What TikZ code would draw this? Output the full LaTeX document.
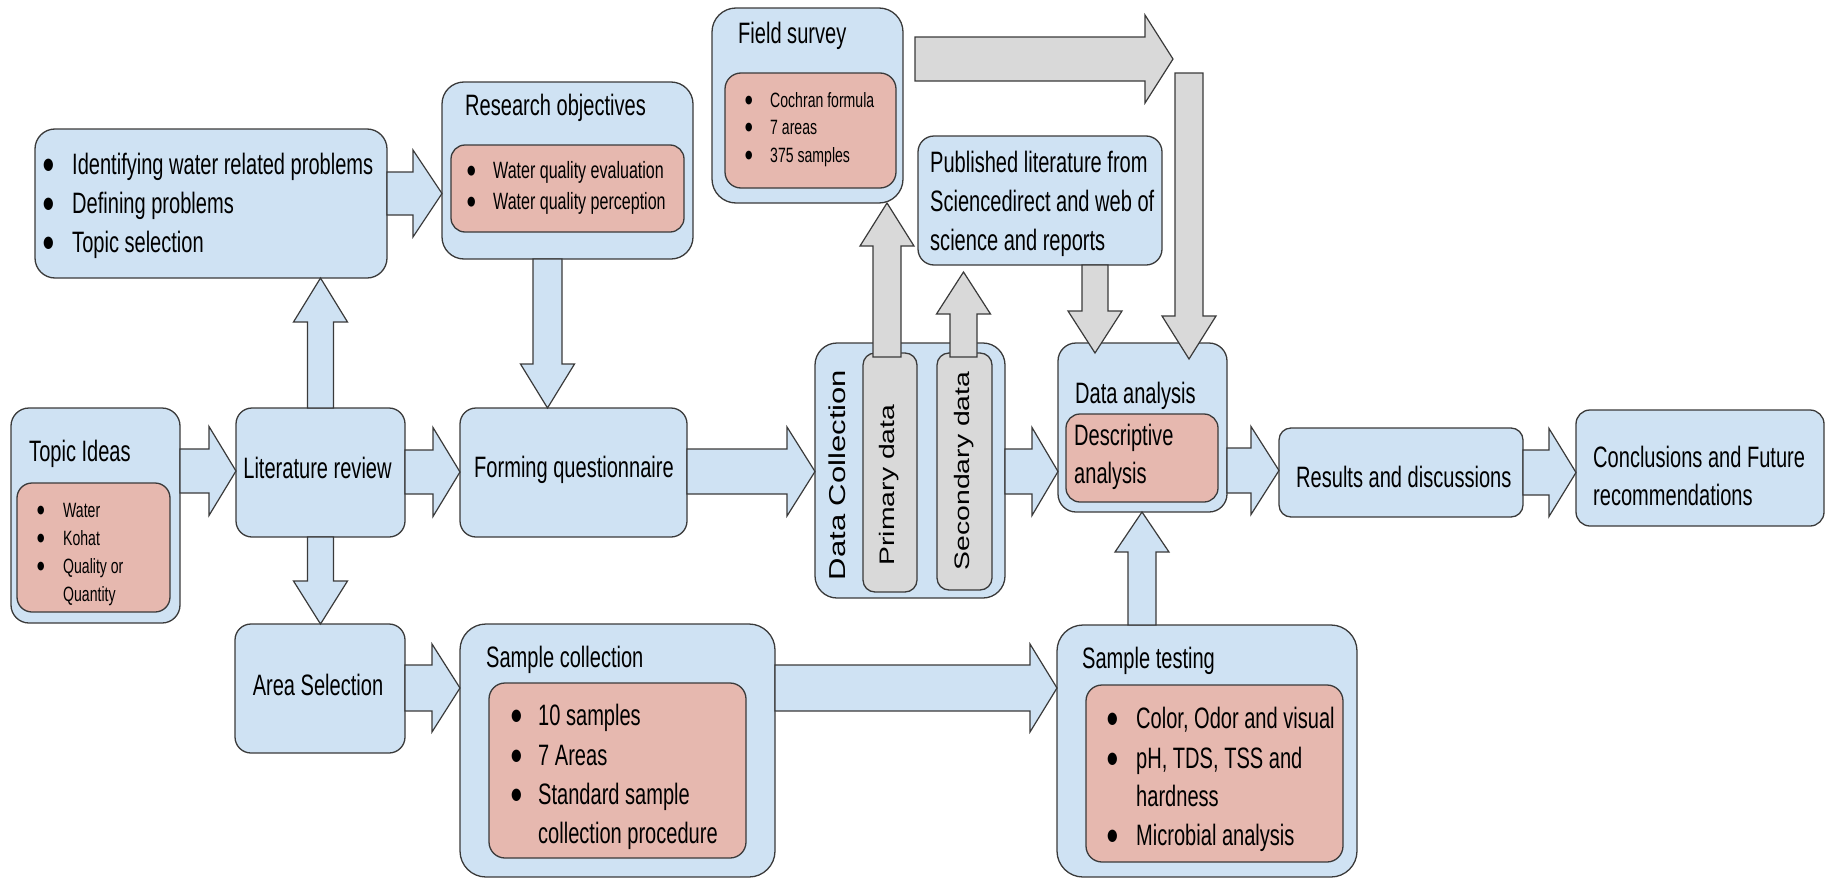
\documentclass[tikz,border=0pt]{standalone}
\usepackage{fontspec}
\setmainfont{Liberation Sans}
\newfontfamily\nar{Liberation Sans}[FakeStretch=0.68]
\newfontfamily\wid{Liberation Sans}[FakeStretch=1.35]
\newfontfamily\dv{DejaVu Sans}
\usetikzlibrary{calc}
\definecolor{bl}{HTML}{CFE2F3}
\definecolor{pk}{HTML}{E6B8AF}
\definecolor{gr}{HTML}{D9D9D9}
\definecolor{ln}{HTML}{3A3A3A}
\tikzset{
 bx/.style={draw=ln, line width=1.3pt, fill=bl, rounded corners=#1pt, inner sep=0pt, outer sep=0pt},
 pkb/.style={draw=ln, line width=1.3pt, fill=pk, rounded corners=#1pt, inner sep=0pt, outer sep=0pt},
 gyb/.style={draw=ln, line width=1.3pt, fill=gr, rounded corners=#1pt, inner sep=0pt, outer sep=0pt},
 barr/.style={draw=ln, line width=1.2pt, fill=bl},
 garr/.style={draw=ln, line width=1.2pt, fill=gr},
 tL/.style={font=\nar\fontsize{29.5}{35}\selectfont, anchor=base west, inner sep=0pt},
 tLc/.style={font=\nar\fontsize{29.5}{35}\selectfont, anchor=base, inner sep=0pt},
 tM/.style={font=\nar\fontsize{23.6}{28}\selectfont, anchor=base west, inner sep=0pt},
 tS/.style={font=\nar\fontsize{20.7}{25}\selectfont, anchor=base west, inner sep=0pt},
 tR/.style={font=\wid\fontsize{#1}{28}\selectfont, rotate=90, anchor=mid, inner sep=0pt},
}
% box: name, x1, y1, x2, y2, style
\newcommand\rbox[6]{\node[#6, minimum width={(#4)-(#2)}, minimum height={(#5)-(#3)}] (#1) at ({((#2)+(#4))/2},{((#3)+(#5))/2}) {};}
% block arrow: style, start, end, shaft half width, head half width, head length
\newcommand\barrow[6]{%
 \coordinate (bas) at (#2);
 \coordinate (bae) at (#3);
 \coordinate (bah) at ($(bae)!#6pt!(bas)$);
 \draw[#1] ($(bas)!#4pt!90:(bae)$) -- ($(bah)!#4pt!90:(bae)$) -- ($(bah)!#5pt!90:(bae)$) -- (bae)
   -- ($(bah)!#5pt!-90:(bae)$) -- ($(bah)!#4pt!-90:(bae)$) -- ($(bas)!#4pt!-90:(bae)$) -- cycle;
}
\newlength\bulh \newlength\bulw \newlength\bulr
\newsavebox\bulbox
\newcommand\bul{\setlength\bulh{0.42em}\setlength\bulw{0.36em}%
 \sbox\bulbox{\resizebox*{\bulw}{\bulh}{\dv\char"25CF}}%
 \setlength\bulr{\dimexpr 0.29em-(\ht\bulbox-\dp\bulbox)/2\relax}%
 \raisebox{\bulr}{\usebox\bulbox}}
% list item: name, style, bullet x, text x, baseline y, text
\newcommand\litem[6]{%
 \node[#2] (#1) at (#4,#5) {#6};
 \node[#2] (#1-b) at (#3,#5) {\bul};
}
\begin{document}
\begin{tikzpicture}[x=1pt,y=-1pt]
\useasboundingbox (0,0) rectangle (1825,878);
% ---------- boxes ----------
\rbox{idbox}{35}{129}{387}{278}{bx=20}
\rbox{resobj}{442}{82}{693}{259}{bx=22}
\rbox{resin}{451}{145}{684}{232}{pkb=14}
\rbox{field}{712}{8}{903}{203}{bx=24}
\rbox{fieldin}{725}{73}{896}{188}{pkb=16}
\rbox{publ}{918}{136}{1162}{265}{bx=16}
\rbox{topic}{11}{408}{180}{623}{bx=18}
\rbox{topicin}{17}{483}{170}{612}{pkb=15}
\rbox{lit}{236}{408}{405}{537}{bx=16}
\rbox{form}{460}{408}{687}{537}{bx=16}
\rbox{dc}{815}{343}{1005}{598}{bx=22}
\rbox{prim}{863}{353}{917}{592}{gyb=12}
\rbox{sec}{937}{353}{992}{590}{gyb=12}
\rbox{da}{1058}{343}{1227}{512}{bx=18}
\rbox{dain}{1066}{414}{1218}{502}{pkb=14}
\rbox{res}{1279}{428}{1523}{517}{bx=12}
\rbox{conc}{1576}{410}{1824}{526}{bx=14}
\rbox{area}{235}{624}{405}{753}{bx=16}
\rbox{sc}{460}{624}{775}{877}{bx=26}
\rbox{scin}{489}{683}{746}{858}{pkb=16}
\rbox{st}{1057}{625}{1357}{877}{bx=26}
\rbox{stin}{1086}{685}{1343}{862}{pkb=16}
% ---------- free ends ----------
\coordinate (fsA) at ($(field.east |- 0,59)+(12,0)$);
\coordinate (fsB) at (1173,59);
\coordinate (fsC) at (1189,73);
\coordinate (primtop) at (887,357);
\coordinate (sectop) at (963.5,357);
% ---------- blue arrows ----------
\barrow{barr}{idbox.east |- 0,193.5}{resobj.west |- 0,193.5}{21.5}{43.5}{29}
\barrow{barr}{topic.east |- 0,471}{lit.west |- 0,471}{22}{44.5}{27}
\barrow{barr}{lit.east |- 0,472}{form.west |- 0,472}{22}{44.5}{27}
\barrow{barr}{form.east |- 0,471.5}{dc.west |- 0,471.5}{22.5}{44.5}{28}
\barrow{barr}{dc.east |- 0,471.5}{da.west |- 0,471.5}{22.5}{44}{26}
\barrow{barr}{da.east |- 0,470.5}{res.west |- 0,470.5}{22.5}{44}{28}
\barrow{barr}{res.east |- 0,472.5}{conc.west |- 0,472.5}{22.5}{44}{27}
\barrow{barr}{area.east |- 0,688}{sc.west |- 0,688}{23}{44}{28}
\barrow{barr}{sc.east |- 0,688}{st.west |- 0,688}{23}{44}{27}
\barrow{barr}{lit.north}{idbox.south -| lit.north}{13}{27}{44}
\barrow{barr}{lit.south}{area.north -| lit.south}{13}{27}{43}
\barrow{barr}{resobj.south -| 547.5,0}{form.north -| 547.5,0}{14.5}{27}{44}
\barrow{barr}{st.north -| 1142,0}{da.south -| 1142,0}{14}{27}{40}
% ---------- grey arrows ----------
\barrow{garr}{primtop}{field.south -| 887,0}{14}{27}{43}
\barrow{garr}{sectop}{$(publ.south -| 963.5,0)+(0,7)$}{13.5}{27}{42}
\barrow{garr}{publ.south -| 1095,0}{$(da.north -| 1095,0)+(0,10)$}{13}{27}{42}
\barrow{garr}{fsA}{fsB}{22}{44}{28}
\barrow{garr}{fsC}{$(da.north -| 1189,0)+(0,16)$}{14}{27}{43}
% ---------- texts ----------
\litem{id1}{tL}{43}{72}{174}{Identifying water related problems}
\litem{id2}{tL}{43}{72}{213}{Defining problems}
\litem{id3}{tL}{43}{72}{252}{Topic selection}
\node[tL] (resT) at (465,115) {Research objectives};
\litem{ro1}{tM}{467}{493}{178}{Water quality evaluation}
\litem{ro2}{tM}{467}{493}{209}{Water quality perception}
\node[tL] (fsT) at (738,43) {Field survey};
\litem{fs1}{tS}{745}{770}{107}{Cochran formula}
\litem{fs2}{tS}{745}{770}{134}{7 areas}
\litem{fs3}{tS}{745}{770}{162}{375 samples}
\node[tL] (pl1) at (930,172) {Published literature from};
\node[tL] (pl2) at (930,211) {Sciencedirect and web of};
\node[tL] (pl3) at (930,250) {science and reports};
\node[tL] (tiT) at (29,461) {Topic Ideas};
\litem{ti1}{tS}{37}{63}{517}{Water}
\litem{ti2}{tS}{37}{63}{545}{Kohat}
\litem{ti3}{tS}{37}{63}{573}{Quality or}
\node[tS] (ti4) at (63,601) {Quantity};
\node[tLc] (litT) at (317.5,478) {Literature review};
\node[tLc] (formT) at (574,477) {Forming questionnaire};
\node[tLc] (areaT) at (318,695) {Area Selection};
\node[tL] (scT) at (486,667) {Sample collection};
\litem{sc1}{tL}{511}{538}{725}{10 samples}
\litem{sc2}{tL}{511}{538}{765}{7 Areas}
\litem{sc3}{tL}{511}{538}{804}{Standard sample}
\node[tL] (sc4) at (538,843) {collection procedure};
\node[tL] (stT) at (1082,668) {Sample testing};
\litem{st1}{tL}{1107}{1136}{728}{Color, Odor and visual}
\litem{st2}{tL}{1107}{1136}{768}{pH, TDS, TSS and}
\node[tL] (st3) at (1136,806) {hardness};
\litem{st4}{tL}{1107}{1136}{845}{Microbial analysis}
\node[tL] (daT) at (1075,403) {Data analysis};
\node[tL] (da1) at (1074,445) {Descriptive};
\node[tL] (da2) at (1074,483) {analysis};
\node[tL] (resT2) at (1296,487) {Results and discussions};
\node[tL] (co1) at (1593,467) {Conclusions and Future};
\node[tL] (co2) at (1593,505) {recommendations};
\node[tR=23] (dcT) at (843,475) {Data Collection};
\node[tR=21] (primT) at (891.5,485) {Primary data};
\node[tR=21] (secT) at (966.5,471) {Secondary data};
\end{tikzpicture}
\end{document}
